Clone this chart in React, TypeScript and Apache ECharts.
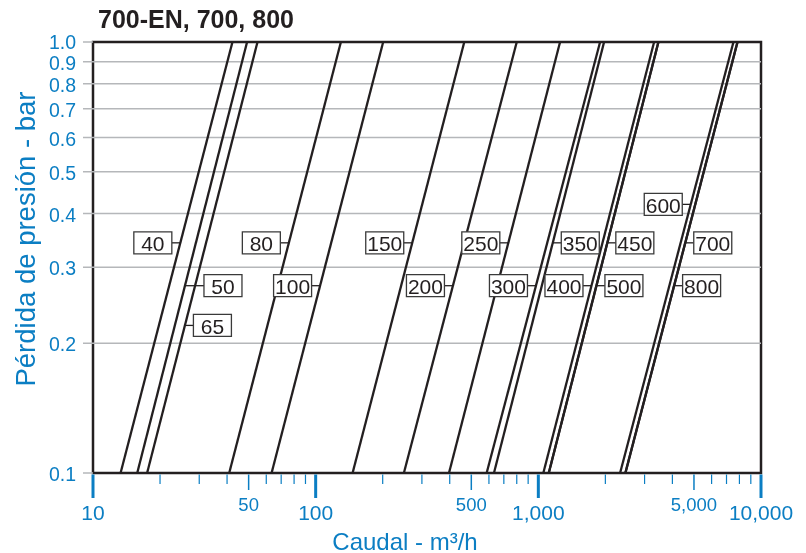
import React, { useEffect, useRef } from "react";
import * as echarts from "echarts";

const title = "700-EN, 700, 800";
const xAxisName = "Caudal - m³/h";
const yAxisName = "Pérdida de presión - bar";

// valve sizes, one curve each
const sizes = ["40", "50", "65", "80", "100", "150", "200", "250", "300", "350", "400", "450", "500", "600", "700", "800"];
// flow (m3/h) at 0.1 bar pressure loss
const flowAtLow = [13.3, 15.8, 17.5, 40.9, 63.4, 146.5, 249, 397, 586, 632, 1053, 1114, 1114, 2329, 2460, 2460];
// flow (m3/h) at 1.0 bar pressure loss
const flowAtHigh = [42.3, 49.2, 54.8, 129.8, 201, 465, 800, 1252, 1894, 1974, 3311, 3462, 3462, 7522, 7843, 7843];
const pressureLow = 0.1;
const pressureHigh = 1.0;

// pressure level at which each size tag sits, and on which side of its curve
const labelPressure = [0.342, 0.272, 0.22, 0.342, 0.272, 0.342, 0.272, 0.342, 0.272, 0.342, 0.272, 0.342, 0.272, 0.42, 0.342, 0.272];
const labelSide = ["left", "right", "right", "left", "left", "left", "left", "left", "left", "right", "left", "right", "right", "left", "right", "right"];

const xMajorTicks = [10, 100, 1000, 10000];
const xMajorLabels = ["10", "100", "1,000", "10,000"];
const xMidTicks = [50, 500, 5000];
const xMidLabels = ["50", "500", "5,000"];
const xMinorTicks = [20, 30, 40, 60, 70, 80, 90, 200, 300, 400, 600, 700, 800, 900, 2000, 3000, 4000, 6000, 7000, 8000, 9000];
const yTicks = [0.1, 0.2, 0.3, 0.4, 0.5, 0.6, 0.7, 0.8, 0.9, 1.0];
const yTickLabels = ["0.1", "0.2", "0.3", "0.4", "0.5", "0.6", "0.7", "0.8", "0.9", "1.0"];

const BLUE = "#0b7ec3";
const INK = "#231f20";
const GRID = "#b5b7ba";
const FONT = "'Liberation Sans', Arial, Helvetica, sans-serif";

export default function App() {
  const ref = useRef<HTMLDivElement>(null);

  useEffect(() => {
    const chart = echarts.init(ref.current!, null, { renderer: "svg" });

    const lineSeries = sizes.map((s, i) => ({
      type: "line",
      name: s,
      data: [
        [flowAtLow[i], pressureLow],
        [flowAtHigh[i], pressureHigh],
      ],
      symbol: "none",
      showSymbol: false,
      silent: true,
      z: 3,
      lineStyle: { color: INK, width: 2.3 },
    }));

    const xTickData = [
      ...xMajorTicks.map((v, i) => [v, pressureLow, 0, i]),
      ...xMidTicks.map((v, i) => [v, pressureLow, 1, i]),
      ...xMinorTicks.map((v) => [v, pressureLow, 2, -1]),
    ];

    const xTickSeries = {
      type: "custom",
      coordinateSystem: "cartesian2d",
      clip: false,
      silent: true,
      z: 4,
      data: xTickData,
      renderItem: (_p: any, api: any) => {
        const pt = api.coord([api.value(0), api.value(1)]);
        const kind = api.value(2);
        const idx = api.value(3);
        const len = kind === 0 ? 25 : kind === 1 ? 17 : 11;
        const w = kind === 0 ? 3 : kind === 1 ? 1.5 : 1.2;
        const children: any[] = [
          {
            type: "line",
            shape: { x1: pt[0], y1: pt[1] + 1.5, x2: pt[0], y2: pt[1] + len },
            style: { stroke: BLUE, lineWidth: w },
          },
        ];
        if (kind === 0) {
          children.push({
            type: "text",
            x: pt[0],
            y: pt[1] + 39,
            style: { text: xMajorLabels[idx], fill: BLUE, font: `21px ${FONT}`, align: "center", verticalAlign: "middle" },
          });
        } else if (kind === 1) {
          children.push({
            type: "text",
            x: pt[0],
            y: pt[1] + 31,
            style: { text: xMidLabels[idx], fill: BLUE, font: `18.5px ${FONT}`, align: "center", verticalAlign: "middle" },
          });
        }
        return { type: "group", children };
      },
    };

    const yTickSeries = {
      type: "custom",
      coordinateSystem: "cartesian2d",
      clip: false,
      silent: true,
      z: 1,
      data: yTicks.map((v, i) => [10, v, i]),
      renderItem: (_p: any, api: any) => {
        const pt = api.coord([api.value(0), api.value(1)]);
        const right = api.coord([10000, api.value(1)])[0];
        const i = api.value(2);
        const top = i === yTicks.length - 1;
        const edge = i === 0 || top;
        return {
          type: "group",
          children: [
            {
              type: "line",
              shape: { x1: pt[0] - 10, y1: pt[1], x2: edge ? pt[0] : right, y2: pt[1] },
              style: { stroke: GRID, lineWidth: 1.5 },
            },
            {
              type: "text",
              x: pt[0] - 17,
              y: pt[1] + (top ? 0 : 1),
              style: {
                text: yTickLabels[i],
                fill: BLUE,
                font: `19.5px ${FONT}`,
                lineHeight: 17,
                align: "right",
                verticalAlign: "middle",
              },
            },
          ],
        };
      },
    };

    const tagSeries = {
      type: "custom",
      coordinateSystem: "cartesian2d",
      clip: false,
      silent: true,
      z: 5,
      data: sizes.map((s, i) => [flowAtLow[i], pressureLow, flowAtHigh[i], pressureHigh, labelPressure[i], i]),
      renderItem: (_p: any, api: any) => {
        const a = api.coord([api.value(0), api.value(1)]);
        const b = api.coord([api.value(2), api.value(3)]);
        const yl = api.coord([api.value(0), api.value(4)])[1];
        const t = (yl - a[1]) / (b[1] - a[1]);
        const xl = a[0] + t * (b[0] - a[0]);
        const i = api.value(5);
        const left = labelSide[i] === "left";
        const gap = sizes[i] === "50" ? 19 : 8.5;
        const W = 38;
        const H = 22;
        const edgeX = left ? xl - gap : xl + gap;
        const bx = left ? edgeX - W : edgeX;
        return {
          type: "group",
          children: [
            { type: "line", shape: { x1: xl, y1: yl, x2: edgeX, y2: yl }, style: { stroke: INK, lineWidth: 1.3 } },
            {
              type: "rect",
              shape: { x: bx, y: yl - H / 2, width: W, height: H },
              style: { fill: "#ffffff", stroke: "#3a3a3a", lineWidth: 1.3 },
            },
            {
              type: "text",
              x: bx + W / 2,
              y: yl + 1,
              style: { text: sizes[i], fill: INK, font: `21px ${FONT}`, align: "center", verticalAlign: "middle" },
            },
          ],
        };
      },
    };

    chart.setOption({
      animation: false,
      grid: {
        left: 93,
        right: 45,
        top: 42,
        bottom: 80,
        show: true,
        borderColor: INK,
        borderWidth: 2.5,
        backgroundColor: "transparent",
      },
      xAxis: {
        type: "log",
        logBase: 10,
        min: 10,
        max: 10000,
        axisLine: { show: false },
        axisTick: { show: false },
        axisLabel: { show: false },
        splitLine: { show: false },
        minorTick: { show: false },
      },
      yAxis: {
        type: "log",
        logBase: 10,
        min: 0.1,
        max: 1,
        axisLine: { show: false },
        axisTick: { show: false },
        axisLabel: { show: false },
        splitLine: { show: false },
        minorTick: { show: false },
      },
      graphic: [
        {
          type: "text",
          x: 98,
          y: 19,
          style: { text: title, fill: INK, font: `bold 25px ${FONT}`, align: "left", verticalAlign: "middle" },
        },
        {
          type: "text",
          x: 405,
          y: 541,
          style: { text: xAxisName, fill: BLUE, font: `24px ${FONT}`, align: "center", verticalAlign: "middle" },
        },
        {
          type: "text",
          x: 25,
          y: 239,
          rotation: Math.PI / 2,
          style: { text: yAxisName, fill: BLUE, font: `27.5px ${FONT}`, align: "center", verticalAlign: "middle" },
        },
      ],
      series: [yTickSeries, ...lineSeries, xTickSeries, tagSeries],
    });

    return () => chart.dispose();
  }, []);

  return <div ref={ref} style={{ position: "fixed", left: 0, top: 0, width: 806, height: 553 }} />;
}
